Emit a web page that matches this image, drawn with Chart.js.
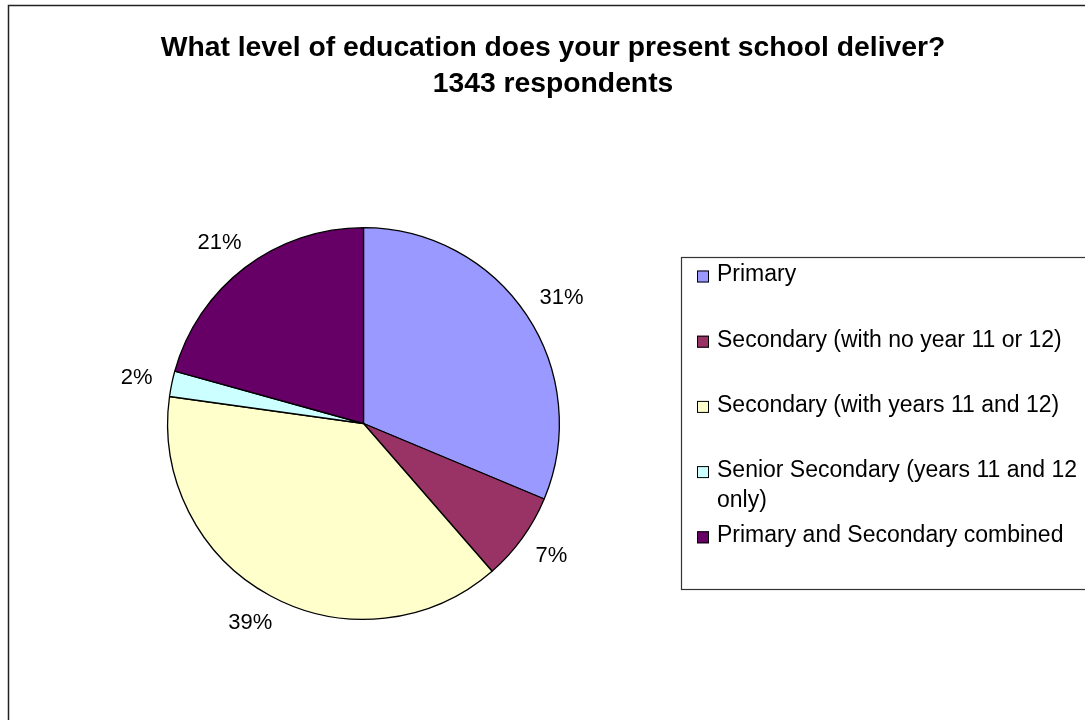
<!DOCTYPE html>
<html>
<head>
<meta charset="utf-8">
<script src="https://cdn.jsdelivr.net/npm/chart.js@4.4.1/dist/chart.umd.min.js"></script>
<style>
  html, body { margin: 0; padding: 0; background: #ffffff; }
  #wrap { position: relative; width: 1085px; height: 720px; }
  canvas { display: block; }
</style>
</head>
<body>
<div id="wrap"><canvas id="c" width="1085" height="720"></canvas></div>
<script>
// ---- Data ----
const titleLines = ["What level of education does your present school deliver?", "1343 respondents"];
const categories = [
  "Primary",
  "Secondary (with no year 11 or 12)",
  "Secondary (with years 11 and 12)",
  "Senior Secondary (years 11 and 12 only)",
  "Primary and Secondary combined"
];
const percentValues = [31.3, 7.3, 38.6, 2.1, 20.7];
const sliceColors = ["#9999FF", "#993366", "#FFFFCC", "#CCFFFF", "#660066"];

const FONT = "'Liberation Sans', Arial, Helvetica, sans-serif";

// Outer frame
const framePlugin = {
  id: 'frame',
  beforeDraw(chart) {
    const ctx = chart.ctx;
    ctx.save();
    ctx.fillStyle = '#ffffff';
    ctx.fillRect(0, 0, chart.width, chart.height);
    ctx.strokeStyle = '#222222';
    ctx.lineWidth = 1.5;
    ctx.strokeRect(8.5, 5.5, 1086, 760);
    ctx.restore();
  }
};

// Title (two centered bold lines)
const titlePlugin = {
  id: 'customTitle',
  afterDraw(chart) {
    const ctx = chart.ctx;
    ctx.save();
    ctx.fillStyle = '#000000';
    ctx.font = "bold 28.3px " + FONT;
    ctx.textAlign = 'center';
    ctx.textBaseline = 'alphabetic';
    titleLines.forEach((t, i) => ctx.fillText(t, 553, 55.5 + i * 36.2));
    ctx.restore();
  }
};

// Percentage labels outside each slice
const pctLabelPlugin = {
  id: 'pctLabels',
  afterDatasetsDraw(chart) {
    const ctx = chart.ctx;
    const meta = chart.getDatasetMeta(0);
    const data = chart.data.datasets[0].data;
    const total = data.reduce((a, b) => a + b, 0);
    ctx.save();
    ctx.font = "22px " + FONT;
    ctx.fillStyle = '#000000';
    ctx.textAlign = 'center';
    ctx.textBaseline = 'middle';
    meta.data.forEach((arc, i) => {
      const p = arc.getProps(['x', 'y', 'startAngle', 'endAngle', 'outerRadius'], true);
      const mid = (p.startAngle + p.endAngle) / 2;
      const ux = Math.cos(mid), uy = Math.sin(mid);
      const txt = Math.round(data[i] / total * 100) + '%';
      const w = ctx.measureText(txt).width;
      const h = 22;
      const r = p.outerRadius + 20;
      const cx = p.x + ux * r + ux * w / 2;
      const cy = p.y + uy * r + uy * h / 2;
      ctx.fillText(txt, cx, cy);
    });
    ctx.restore();
  }
};

// Legend box with wrapped labels
const legendPlugin = {
  id: 'boxLegend',
  afterDraw(chart) {
    const ctx = chart.ctx;
    const labels = chart.data.labels;
    const colors = chart.data.datasets[0].backgroundColor;
    const boxL = 681, boxT = 257, boxR = 1100, boxB = 589;
    ctx.save();
    ctx.strokeStyle = '#333333';
    ctx.lineWidth = 1.2;
    ctx.strokeRect(boxL + 0.5, boxT + 0.5, boxR - boxL, boxB - boxT);
    ctx.font = "23px " + FONT;
    ctx.textBaseline = 'middle';
    ctx.textAlign = 'left';
    const textX = 717, maxW = 366;
    labels.forEach((lab, i) => {
      const y = 275 + i * 65.2;
      // swatch
      ctx.fillStyle = colors[i];
      ctx.fillRect(697, y - 4.5, 12, 12);
      ctx.strokeStyle = '#000000';
      ctx.lineWidth = 1;
      ctx.strokeRect(697.5, y - 4, 11, 11);
      // wrapped text
      const words = lab.split(' ');
      const lines = [];
      let cur = '';
      words.forEach(wd => {
        const test = cur ? cur + ' ' + wd : wd;
        if (ctx.measureText(test).width > maxW && cur) { lines.push(cur); cur = wd; }
        else cur = test;
      });
      if (cur) lines.push(cur);
      ctx.fillStyle = '#000000';
      lines.forEach((ln, j) => ctx.fillText(ln, textX, y + j * 30));
    });
    ctx.restore();
  }
};

new Chart(document.getElementById('c'), {
  type: 'pie',
  data: {
    labels: categories,
    datasets: [{
      data: percentValues,
      backgroundColor: sliceColors,
      borderColor: '#000000',
      borderWidth: 1.3
    }]
  },
  options: {
    responsive: false,
    devicePixelRatio: 1,
    animation: false,
    rotation: 0,
    layout: { padding: { left: 167, right: 525, top: 227, bottom: 100 } },
    plugins: {
      legend: { display: false },
      title: { display: false },
      tooltip: { enabled: false }
    }
  },
  plugins: [framePlugin, pctLabelPlugin, legendPlugin, titlePlugin]
});
</script>
</body>
</html>
